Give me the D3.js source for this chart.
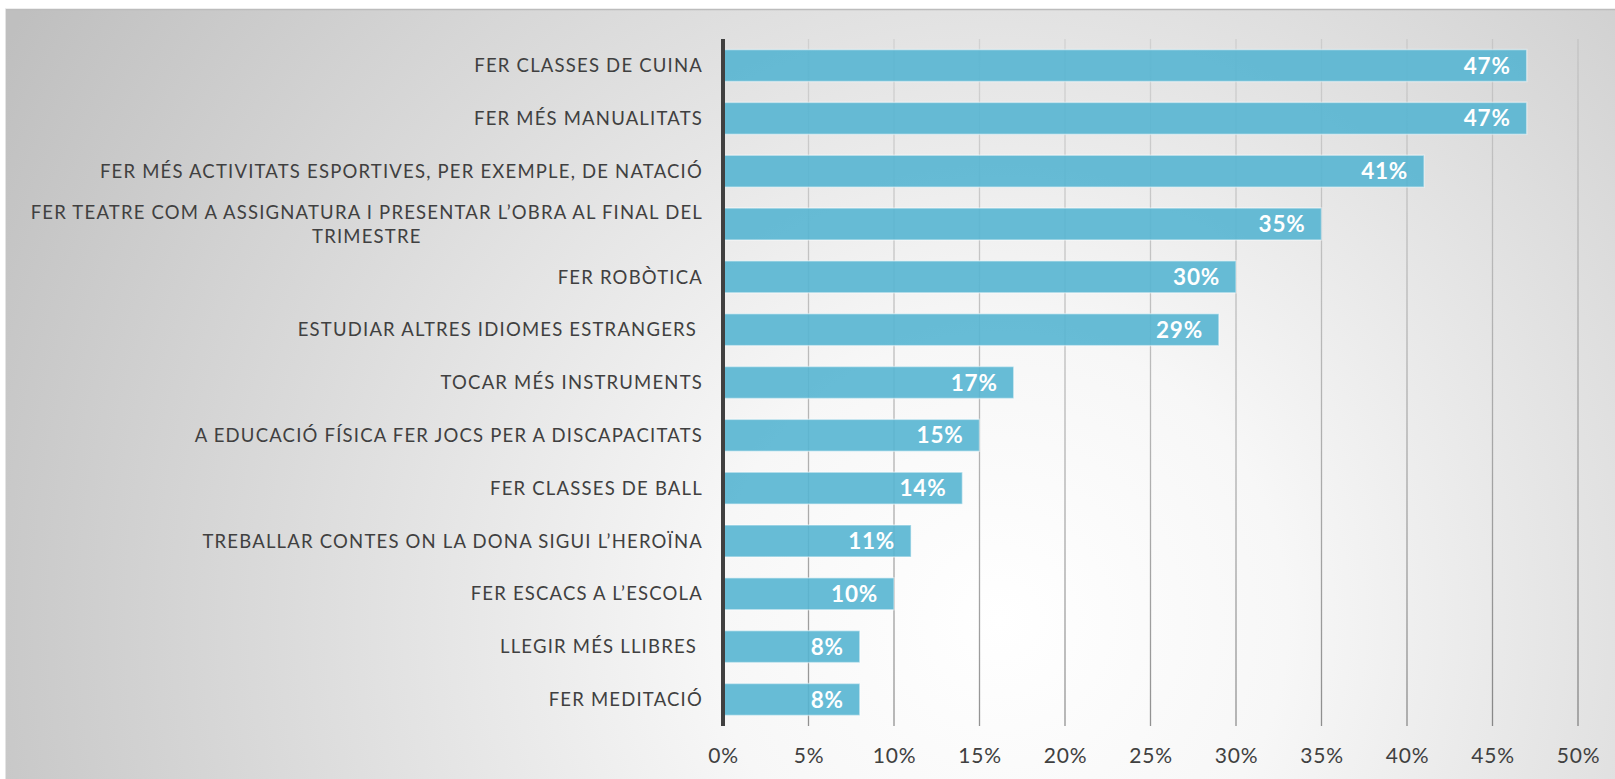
<!DOCTYPE html>
<html>
<head>
<meta charset="utf-8">
<script src="https://cdn.jsdelivr.net/npm/d3@7"></script>
<style>
  html, body { margin: 0; padding: 0; background: #ffffff; }
  svg { display: block; }
  .cat { font-family: Lato, "Open Sans", sans-serif; font-size: 18.5px; letter-spacing: 1.2px; fill: #404040; white-space: pre; }
  .tick-label { font-family: Lato, "Open Sans", sans-serif; font-size: 21px; letter-spacing: 0.8px; fill: #404040; }
  .val { font-family: Lato, "Open Sans", sans-serif; font-size: 22.5px; letter-spacing: 0.8px; font-weight: 700; fill: #ffffff; }
</style>
</head>
<body>
<script>
// Activity proposals (share of responses)
const categories = [
  "FER CLASSES DE CUINA",
  "FER MÉS MANUALITATS",
  "FER MÉS ACTIVITATS ESPORTIVES, PER EXEMPLE, DE NATACIÓ",
  "FER TEATRE COM A ASSIGNATURA I PRESENTAR L’OBRA AL FINAL DEL|TRIMESTRE",
  "FER ROBÒTICA",
  "ESTUDIAR ALTRES IDIOMES ESTRANGERS ",
  "TOCAR MÉS INSTRUMENTS",
  "A EDUCACIÓ FÍSICA FER JOCS PER A DISCAPACITATS",
  "FER CLASSES DE BALL",
  "TREBALLAR CONTES ON LA DONA SIGUI L’HEROÏNA",
  "FER ESCACS A L’ESCOLA",
  "LLEGIR MÉS LLIBRES ",
  "FER MEDITACIÓ"
];
const values = [0.47, 0.47, 0.41, 0.35, 0.30, 0.29, 0.17, 0.15, 0.14, 0.11, 0.10, 0.08, 0.08];
const valueLabels = ["47%", "47%", "41%", "35%", "30%", "29%", "17%", "15%", "14%", "11%", "10%", "8%", "8%"];
const tickValues = [0, 0.05, 0.10, 0.15, 0.20, 0.25, 0.30, 0.35, 0.40, 0.45, 0.50];

const W = 1615, H = 779;
const plot = { left: 723, right: 1578, top: 39, bottom: 726 };

const svg = d3.select("body").append("svg").attr("width", W).attr("height", H);
const defs = svg.append("defs");

// Soft radial backdrop: bright in the lower middle, grey toward the corners
const bg = defs.append("radialGradient").attr("id", "bg")
  .attr("gradientUnits", "userSpaceOnUse")
  .attr("cx", 1000).attr("cy", 620).attr("r", 1150);
bg.append("stop").attr("offset", 0).attr("stop-color", "#ffffff");
bg.append("stop").attr("offset", 0.25).attr("stop-color", "#f7f7f7");
bg.append("stop").attr("offset", 1).attr("stop-color", "#bfbfbf");

// Gridlines fade toward the top
const gg = defs.append("linearGradient").attr("id", "grid")
  .attr("gradientUnits", "userSpaceOnUse")
  .attr("x1", 0).attr("y1", plot.top).attr("x2", 0).attr("y2", plot.bottom);
gg.append("stop").attr("offset", 0).attr("stop-color", "#000").attr("stop-opacity", 0.08);
gg.append("stop").attr("offset", 1).attr("stop-color", "#000").attr("stop-opacity", 0.42);

svg.append("rect").attr("x", 5).attr("y", 9).attr("width", W - 5).attr("height", H - 9)
  .attr("fill", "url(#bg)");
svg.append("line").attr("x1", 5).attr("x2", W).attr("y1", 9.5).attr("y2", 9.5)
  .attr("stroke", "#bcbcbc").attr("stroke-width", 1.5);
svg.append("line").attr("x1", 5.5).attr("x2", 5.5).attr("y1", 9).attr("y2", H)
  .attr("stroke", "#e4e4e4").attr("stroke-width", 1);

const x = d3.scaleLinear().domain([0, 0.5]).range([plot.left, plot.right]);
const y = d3.scaleBand().domain(categories).range([plot.top, plot.bottom])
  .paddingInner(0.395).paddingOuter(0.2);

// Vertical gridlines
svg.append("g").selectAll("line").data(tickValues.slice(1)).join("line")
  .attr("x1", d => x(d)).attr("x2", d => x(d))
  .attr("y1", plot.top).attr("y2", plot.bottom)
  .attr("stroke", "url(#grid)").attr("stroke-width", 1.3);

// Bars
svg.append("g").selectAll("rect").data(values).join("rect")
  .attr("x", x(0))
  .attr("y", (d, i) => y(categories[i]))
  .attr("width", d => x(d) - x(0))
  .attr("height", y.bandwidth())
  .attr("fill", "#56b5d1").attr("fill-opacity", 0.9)
  .attr("stroke", "#ffffff").attr("stroke-opacity", 0.45).attr("stroke-width", 1.5);

// Value labels inside bar ends
svg.append("g").selectAll("text").data(values).join("text")
  .attr("class", "val")
  .attr("x", d => x(d) - 16)
  .attr("y", (d, i) => y(categories[i]) + y.bandwidth() / 2)
  .attr("dy", "0.36em")
  .attr("text-anchor", "end")
  .text((d, i) => valueLabels[i]);

// Category labels (a "|" marks a line break; the second line is centred under the first)
const catG = svg.append("g");
categories.forEach((c, i) => {
  const lines = c.split("|");
  const cy = y(c) + y.bandwidth() / 2;
  const rightX = plot.left - 20;
  if (lines.length === 1) {
    catG.append("text").attr("class", "cat")
      .attr("x", rightX).attr("y", cy).attr("dy", "0.36em")
      .attr("text-anchor", "end").text(lines[0]);
  } else {
    const lh = 24;
    const t1 = catG.append("text").attr("class", "cat")
      .attr("x", rightX).attr("y", cy - lh / 2).attr("dy", "0.36em")
      .attr("text-anchor", "end").text(lines[0]);
    const w1 = t1.node().getComputedTextLength();
    catG.append("text").attr("class", "cat")
      .attr("x", rightX - w1 / 2).attr("y", cy + lh / 2).attr("dy", "0.36em")
      .attr("text-anchor", "middle").text(lines[1]);
  }
});

// Category axis line
svg.append("line").attr("x1", x(0)).attr("x2", x(0))
  .attr("y1", plot.top).attr("y2", plot.bottom)
  .attr("stroke", "#404040").attr("stroke-width", 4);

// Value axis tick labels
const xAxis = d3.axisBottom(x).tickValues(tickValues).tickSize(0).tickPadding(0)
  .tickFormat(d3.format(".0%"));
const ax = svg.append("g").attr("transform", `translate(0, ${plot.bottom + 22})`).call(xAxis);
ax.select(".domain").remove();
ax.selectAll("text").attr("class", "tick-label").attr("fill", null)
  .style("font-family", null).style("font-size", null);
ax.attr("font-family", null).attr("font-size", null);
</script>
</body>
</html>
